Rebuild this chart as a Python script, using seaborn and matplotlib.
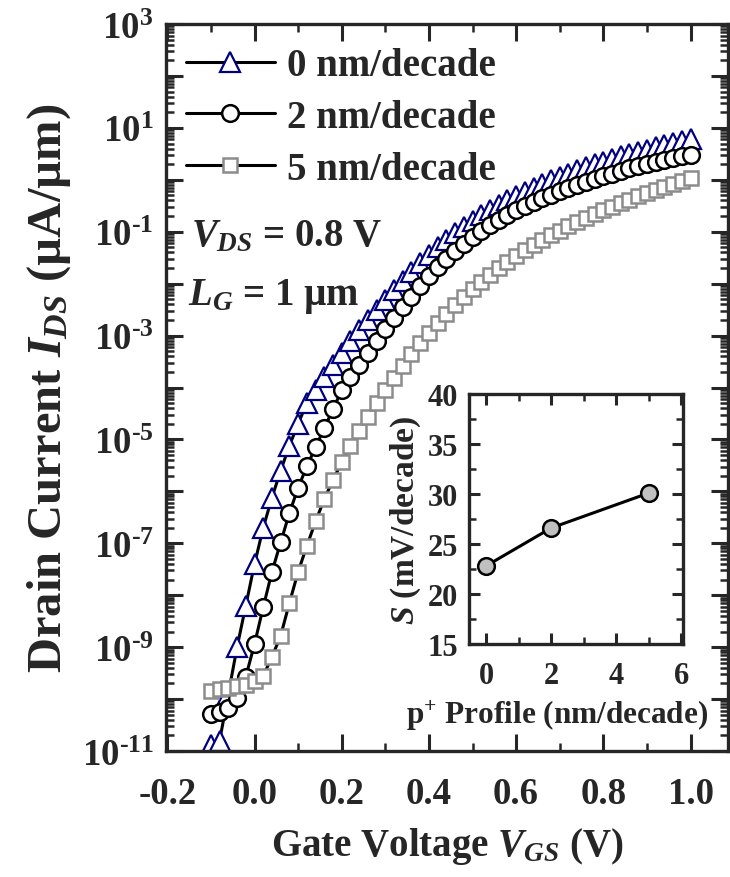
import numpy as np
import pandas as pd
import matplotlib
matplotlib.use("Agg")
import matplotlib.pyplot as plt
import seaborn as sns

# ---------------- data ----------------
vgs = [-0.10, -0.08, -0.06, -0.04, -0.02, 0.00, 0.02, 0.04, 0.06, 0.08,
       0.10, 0.12, 0.14, 0.16, 0.18, 0.20, 0.22, 0.24, 0.26, 0.28,
       0.30, 0.32, 0.34, 0.36, 0.38, 0.40, 0.42, 0.44, 0.46, 0.48,
       0.50, 0.52, 0.54, 0.56, 0.58, 0.60, 0.62, 0.64, 0.66, 0.68,
       0.70, 0.72, 0.74, 0.76, 0.78, 0.80, 0.82, 0.84, 0.86, 0.88,
       0.90, 0.92, 0.94, 0.96, 0.98, 1.00]

# log10 of drain current (uA/um)
log_ids_0nm = [-10.88, -10.80, -9.90, -9.00, -8.20, -7.40, -6.70, -6.12, -5.60, -5.12,
               -4.70, -4.30, -4.05, -3.80, -3.56, -3.33, -3.11, -2.90, -2.70, -2.50,
               -2.31, -2.12, -1.94, -1.77, -1.60, -1.44, -1.29, -1.15, -1.02, -0.90,
               -0.79, -0.68, -0.58, -0.48, -0.39, -0.31, -0.23, -0.15, -0.08, -0.01,
               0.06, 0.12, 0.18, 0.24, 0.30, 0.35, 0.40, 0.45, 0.50, 0.54,
               0.58, 0.63, 0.67, 0.71, 0.75, 0.79]
log_ids_2nm = [-10.29, -10.25, -10.18, -9.98, -9.57, -8.94, -8.23, -7.55, -6.98, -6.42,
               -5.93, -5.52, -5.15, -4.78, -4.42, -4.05, -3.80, -3.56, -3.33, -3.10,
               -2.88, -2.66, -2.45, -2.25, -2.05, -1.86, -1.68, -1.52, -1.37, -1.23,
               -1.10, -0.98, -0.87, -0.77, -0.68, -0.59, -0.51, -0.43, -0.36, -0.29,
               -0.22, -0.16, -0.10, -0.04, 0.02, 0.07, 0.12, 0.17, 0.22, 0.26,
               0.30, 0.34, 0.38, 0.42, 0.45, 0.48]
log_ids_5nm = [-9.84, -9.81, -9.78, -9.75, -9.72, -9.66, -9.55, -9.19, -8.78, -8.15,
               -7.55, -7.05, -6.58, -6.15, -5.78, -5.44, -5.13, -4.84, -4.56, -4.30,
               -4.05, -3.81, -3.58, -3.36, -3.15, -2.95, -2.76, -2.58, -2.41, -2.25,
               -2.10, -1.96, -1.83, -1.70, -1.58, -1.47, -1.36, -1.26, -1.16, -1.07,
               -0.98, -0.89, -0.81, -0.73, -0.66, -0.59, -0.52, -0.45, -0.38, -0.32,
               -0.26, -0.20, -0.14, -0.08, -0.02, 0.04]

series_labels = ["0 nm/decade", "2 nm/decade", "5 nm/decade"]

# inset: subthreshold swing vs p+ profile
profile = [0, 2, 5]
swing = [22.8, 26.6, 30.1]

xtick_values = [-0.2, 0.0, 0.2, 0.4, 0.6, 0.8, 1.0]
xtick_labels = ["-0.2", "0.0", "0.2", "0.4", "0.6", "0.8", "1.0"]
ytick_exponents = [-11, -10, -9, -8, -7, -6, -5, -4, -3, -2, -1, 0, 1, 2, 3]
ytick_labels = ["$10^{\u201011}$", "", "$10^{\u20109}$", "", "$10^{\u20107}$", "",
                "$10^{\u20105}$", "", "$10^{\u20103}$", "", "$10^{\u20101}$", "",
                "$10^{1}$", "", "$10^{3}$"]
inset_xticks = [0, 2, 4, 6]
inset_yticks = [15, 20, 25, 30, 35, 40]

# ---------------- style ----------------
sns.set_style("ticks")
plt.rcParams["font.family"] = ["Liberation Serif", "DejaVu Serif"]
plt.rcParams["font.weight"] = "bold"
plt.rcParams["mathtext.fontset"] = "custom"
plt.rcParams["mathtext.rm"] = "Liberation Serif:bold"
plt.rcParams["mathtext.bf"] = "Liberation Serif:bold"
plt.rcParams["mathtext.it"] = "Liberation Serif:italic:bold"
plt.rcParams["mathtext.default"] = "rm"
plt.rcParams["axes.linewidth"] = 2.4

df = pd.DataFrame({
    "Vgs": vgs * 3,
    "Ids": list(10 ** np.array(log_ids_0nm)) + list(10 ** np.array(log_ids_2nm))
           + list(10 ** np.array(log_ids_5nm)),
    "profile": [series_labels[0]] * len(vgs) + [series_labels[1]] * len(vgs)
               + [series_labels[2]] * len(vgs),
})

fig = plt.figure(figsize=(7.3, 8.78), dpi=100)
ax = fig.add_axes([0.2274, 0.1435, 0.7699, 0.828])

styles = {
    series_labels[0]: dict(marker="^", markersize=14, markerfacecolor="white",
                           markeredgecolor="#000080", markeredgewidth=1.6),
    series_labels[1]: dict(marker="o", markersize=12, markerfacecolor="white",
                           markeredgecolor="black", markeredgewidth=1.8),
    series_labels[2]: dict(marker="s", markersize=9.5, markerfacecolor="white",
                           markeredgecolor="#8c8c8c", markeredgewidth=1.8),
}
for lab in series_labels:
    sub = df[df["profile"] == lab]
    sns.lineplot(data=sub, x="Vgs", y="Ids", ax=ax, color="black", linewidth=2.2,
                 estimator=None, sort=False, label=lab, **styles[lab])

ax.set_yscale("log")
ax.set_xlim(-0.203, 1.086)
ax.set_ylim(1e-11, 1e3)
ax.set_xticks(xtick_values)
ax.set_xticklabels(xtick_labels)
ax.set_xticks([-0.1, 0.1, 0.3, 0.5, 0.7, 0.9], minor=True)
ax.set_yticks([10.0 ** e for e in ytick_exponents])
ax.set_yticklabels(ytick_labels)
ax.yaxis.set_minor_locator(matplotlib.ticker.LogLocator(base=10, subs=np.arange(2, 10), numticks=100))
ax.yaxis.set_minor_formatter(matplotlib.ticker.NullFormatter())
ax.tick_params(which="both", direction="in", top=True, right=True)
ax.tick_params(which="major", length=12, width=2.2, labelsize=26.5)
ax.tick_params(axis="x", which="major", pad=18)
ax.tick_params(axis="y", which="major", pad=9)
ax.tick_params(which="minor", length=6, width=1.8)
for t in ax.get_xticklabels() + ax.get_yticklabels():
    t.set_fontweight("bold")

ax.set_xlabel(r"Gate Voltage $\mathit{V}_{\mathit{GS}}$ (V)", fontsize=28,
              fontweight="bold", labelpad=10)
ax.set_ylabel(r"Drain Current $\mathit{I}_{\mathit{DS}}$ (µA/µm)", fontsize=35,
              fontweight="bold", labelpad=6)

leg = ax.legend(loc="upper left", bbox_to_anchor=(0.035, 0.968), frameon=False,
                fontsize=28, handlelength=2.3, handletextpad=0.3, labelspacing=0.38,
                borderpad=0, borderaxespad=0)
for t in leg.get_texts():
    t.set_fontweight("bold")

ax.text(0.044, 0.696, r"$\mathit{V}_{\mathit{DS}}$ = 0.8 V", transform=ax.transAxes,
        fontsize=28, fontweight="bold", va="baseline", ha="left")
ax.text(0.040, 0.615, r"$\mathit{L}_{\mathit{G}}$ = 1 µm", transform=ax.transAxes,
        fontsize=28, fontweight="bold", va="baseline", ha="left")

# ---------------- inset ----------------
ax2 = fig.add_axes([0.6425, 0.2654, 0.2932, 0.2847])
ins = pd.DataFrame({"profile": profile, "S": swing})
sns.lineplot(data=ins, x="profile", y="S", ax=ax2, color="black", linewidth=2.2,
             marker="o", markersize=12, markerfacecolor="#c0c0c0",
             markeredgecolor="black", markeredgewidth=1.8, estimator=None, sort=False)
ax2.set_xlim(-0.52, 6.05)
ax2.set_ylim(15, 40)
ax2.set_xticks(inset_xticks)
ax2.set_xticks([1, 3, 5], minor=True)
ax2.set_yticks(inset_yticks)
ax2.set_yticks([17.5, 22.5, 27.5, 32.5, 37.5], minor=True)
ax2.tick_params(which="both", direction="in", top=True, right=True)
ax2.tick_params(which="major", length=8, width=2.2, labelsize=22)
ax2.tick_params(axis="x", which="major", pad=12)
ax2.tick_params(axis="y", which="major", pad=8)
ax2.tick_params(which="minor", length=5, width=1.8)
for t in ax2.get_xticklabels() + ax2.get_yticklabels():
    t.set_fontweight("bold")
ax2.set_xlabel(r"p$^{+}$ Profile (nm/decade)", fontsize=22.5, fontweight="bold")
ax2.xaxis.set_label_coords(0.41, -0.215)
ax2.set_ylabel(r"$\mathit{S}$ (mV/decade)", fontsize=24, fontweight="bold", labelpad=3)

fig.savefig("out.png", dpi=100)
